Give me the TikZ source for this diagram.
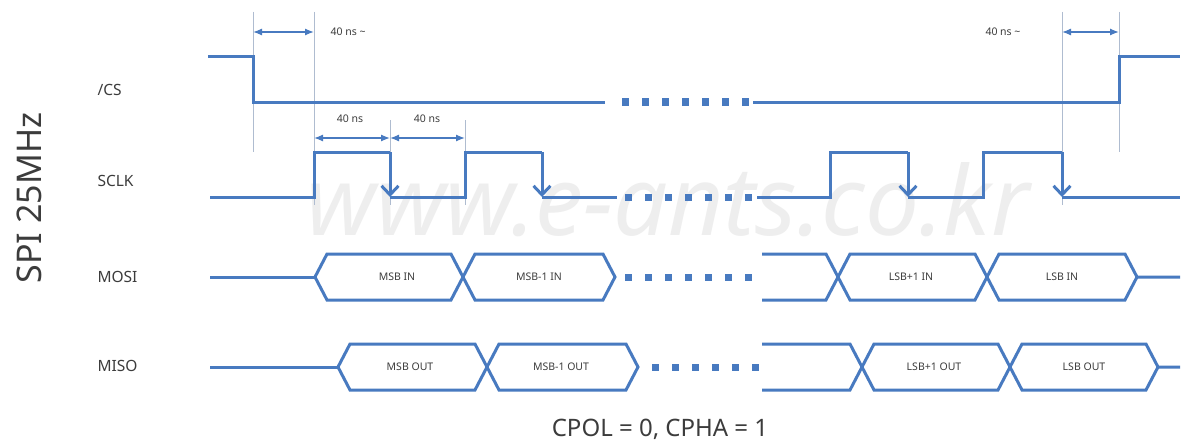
\documentclass[tikz,border=0pt]{standalone}
\usepackage{fontspec}
\setmainfont{Noto Sans}
\usetikzlibrary{arrows.meta}
\definecolor{sig}{RGB}{72,122,192}
\definecolor{guide}{RGB}{175,188,208}
\definecolor{txt}{RGB}{60,60,60}
\definecolor{wm}{RGB}{238,238,238}
\tikzset{
  wave/.style={draw=sig, line width=3pt, line join=miter},
  guideline/.style={draw=guide, line width=1pt},
  dim/.style={draw=sig, line width=1.3pt, {Latex[length=9pt,width=7pt]}-{Latex[length=9pt,width=7pt]}},
  edge/.style={wave, -{Straight Barb[length=9pt,width=17pt,line width=3pt]}},
  sname/.style={anchor=west, text=txt, font=\fontsize{15.5}{18}\selectfont},
  small/.style={text=txt, font=\fontsize{10.5}{12}\selectfont},
}
\newcommand{\dotrow}[3]{\foreach \i in {0,...,#3}{\fill[sig] ({#1+20*\i-3.5},{#2-3.5}) rectangle ++(7,7);}}
\begin{document}
\begin{tikzpicture}[x=1pt,y=-1pt]
\useasboundingbox (0,0) rectangle (1192,444);
\fill[white] (0,0) rectangle (1192,444);
% watermark
\node[text=wm, font=\fontsize{96}{100}\selectfont\bfseries\itshape] (wmark) at (668,200) {www.e-ants.co.kr};

% guide lines
\draw[guideline] (253,12) -- (253,152);
\draw[guideline] (314,12) -- (314,205);
\draw[guideline] (390,120) -- (390,205);
\draw[guideline] (465,120) -- (465,205);
\draw[guideline] (1062,12) -- (1062,205);
\draw[guideline] (1119,12) -- (1119,152);

% dimension arrows
\coordinate (a1) at (253,32); \coordinate (a2) at (314,32);
\draw[dim] (a1) -- (a2);
\coordinate (b1) at (1062,32); \coordinate (b2) at (1119,32);
\draw[dim] (b1) -- (b2);
\coordinate (c1) at (314,138); \coordinate (c2) at (390,138); \coordinate (c3) at (465,138);
\draw[dim] (c1) -- (c2);
\draw[dim] (c2) -- (c3);
\node[small, anchor=west] (t1) at (327,32) {40 ns \char"007E};
\node[small] (t2) at (1003,32) {40 ns \char"007E};
\node[small] (t3) at (350,119) {40 ns};
\node[small] (t4) at (427,119) {40 ns};

% signal names
\node[sname] (ncs) at (94,90) {/CS};
\node[sname] (nclk) at (94,181) {SCLK};
\node[sname] (nmosi) at (94,277) {MOSI};
\node[sname] (nmiso) at (94,366) {MISO};
\node[rotate=90, text=txt, font=\fontsize{34}{38}\selectfont] (spi) at (29,198) {SPI 25MHz};
\node[text=txt, font=\fontsize{24}{28}\selectfont] (cpol) at (660,429) {CPOL = 0, CPHA = 1};

% /CS
\draw[wave] (208,57) -- (253,57) -- (253,102) -- (605,102);
\draw[wave] (753,102) -- (1119,102) -- (1119,57) -- (1180,57);
\dotrow{625}{102}{6}

% SCLK
\draw[wave] (210,197) -- (314,197) -- (314,152) -- (390,152);
\draw[edge] (390,152) -- (390,197);
\draw[wave] (390,197) -- (465,197) -- (465,152) -- (542,152);
\draw[edge] (542,152) -- (542,197);
\draw[wave] (542,197) -- (617,197);
\dotrow{628}{197}{6}
\draw[wave] (757,197) -- (830,197) -- (830,152) -- (908,152);
\draw[edge] (908,152) -- (908,197);
\draw[wave] (908,197) -- (983,197) -- (983,152) -- (1062,152);
\draw[edge] (1062,152) -- (1062,197);
\draw[wave] (1062,197) -- (1180,197);

% MOSI
\draw[wave] (210,277) -- (315,277);
\draw[wave] (315,277) -- (327,254) -- (451,254) -- (475,300) -- (603,300) -- (615,277) -- (603,254) -- (475,254) -- (451,300) -- (327,300) -- cycle;
\dotrow{628}{277}{6}
\draw[wave] (762,254) -- (826,254) -- (850,300) -- (975,300) -- (999,254) -- (1125,254) -- (1137,277) -- (1180,277);
\draw[wave] (762,300) -- (826,300) -- (850,254) -- (975,254) -- (999,300) -- (1125,300) -- (1137,277);
\node[small] (m1) at (397,277) {MSB IN};
\node[small] (m2) at (539,277) {MSB-1 IN};
\node[small] (m3) at (911,277) {LSB+1 IN};
\node[small] (m4) at (1062,277) {LSB IN};

% MISO
\draw[wave] (210,367) -- (338,367);
\draw[wave] (338,367) -- (350,344) -- (475,344) -- (499,390) -- (626,390) -- (638,367) -- (626,344) -- (499,344) -- (475,390) -- (350,390) -- cycle;
\dotrow{655}{367}{5}
\draw[wave] (762,344) -- (850,344) -- (874,390) -- (998,390) -- (1022,344) -- (1146,344) -- (1158,367) -- (1180,367);
\draw[wave] (762,390) -- (850,390) -- (874,344) -- (998,344) -- (1022,390) -- (1146,390) -- (1158,367);
\node[small] (o1) at (410,367) {MSB OUT};
\node[small] (o2) at (561,367) {MSB-1 OUT};
\node[small] (o3) at (934,367) {LSB+1 OUT};
\node[small] (o4) at (1084,367) {LSB OUT};
\end{tikzpicture}
\end{document}
